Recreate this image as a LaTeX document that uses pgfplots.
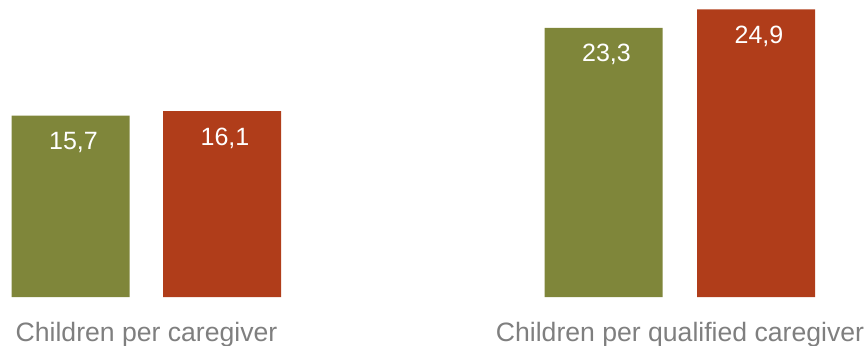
\documentclass[border=0pt]{standalone}
\usepackage{pgfplots}
\pgfplotsset{compat=1.18}
\usepackage{fontspec}
\setmainfont{Liberation Sans}
\definecolor{olivebar}{HTML}{7F863A}
\definecolor{rustbar}{HTML}{B03D1A}
\definecolor{labgray}{HTML}{7F7F7F}
\begin{document}
\begin{tikzpicture}
\begin{axis}[
  scale only axis,
  width=434pt, height=148.5pt,
  xmin=0, xmax=868, ymin=0, ymax=25.71,
  axis line style={draw=none},
  tick style={draw=none},
  ytick=\empty,
  xtick={146.5,680},
  xticklabels={Children per caregiver, Children per qualified caregiver},
  xticklabel style={anchor=base, yshift=-18pt, font=\fontsize{13.3pt}{16pt}\selectfont, text=labgray, inner sep=0pt},
  ybar, bar width=118,
  clip=false,
  nodes near coords,
  nodes near coords align={center},
  every node near coord/.append style={anchor=base, yshift=-17pt, xshift=1.5pt, text=white, font=\fontsize{12.5pt}{15pt}\selectfont, inner sep=0pt,
    /pgf/number format/.cd, fixed, fixed zerofill, precision=1, use comma, assume math mode=true},
]
\addplot[fill=olivebar, draw=none, bar shift=0pt] coordinates {(70.5,15.7) (603.5,23.3)};
\addplot[fill=rustbar, draw=none, bar shift=0pt] coordinates {(222,16.1) (756,24.9)};
\end{axis}
\pgfresetboundingbox
\path[use as bounding box] (0,-24pt) rectangle (434pt,148.5pt);
\end{tikzpicture}
\end{document}
